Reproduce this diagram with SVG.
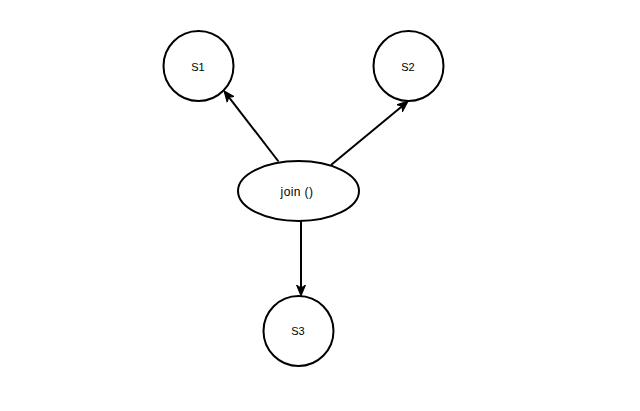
<svg xmlns="http://www.w3.org/2000/svg" width="640" height="411" viewBox="0 0 640 411">
<style>
.node{fill:#fff;stroke:#000;stroke-width:2}
.lbl{font-family:"Liberation Sans",Arial,sans-serif;font-size:11px;fill:#000;text-anchor:middle}
.edge{stroke:#000;stroke-width:2;fill:none;marker-end:url(#arr)}
</style>
<defs>
<marker id="arr" markerUnits="userSpaceOnUse" viewBox="0 0 12 12" refX="9" refY="6" markerWidth="12" markerHeight="12" orient="auto">
<path d="M0,1.5 L11,6 L0,10.5 L3,6 Z" fill="#000" stroke="#000" stroke-width="1"/>
</marker>
</defs>
<rect width="640" height="411" fill="#fff"/>
<g id="connectors">
<path class="edge" d="M278.5,161.5 L225.2,92.3"/>
<path class="edge" d="M331,165 L406.6,102.4"/>
<path class="edge" d="M301,221 L301,294"/>
</g>
<g id="S1">
<circle class="node" cx="198.5" cy="66" r="35"/>
<text class="lbl" x="198" y="70.5">S1</text>
</g>
<g id="S2">
<circle class="node" cx="408.5" cy="66" r="35"/>
<text class="lbl" x="408" y="70.5">S2</text>
</g>
<g id="join">
<ellipse class="node" cx="298.5" cy="191" rx="60.5" ry="30"/>
<text class="lbl" x="297" y="195.5" style="font-size:12px;letter-spacing:0.4px">join ()</text>
</g>
<g id="S3">
<circle class="node" cx="298.5" cy="331" r="35"/>
<text class="lbl" x="298" y="335">S3</text>
</g>
</svg>
